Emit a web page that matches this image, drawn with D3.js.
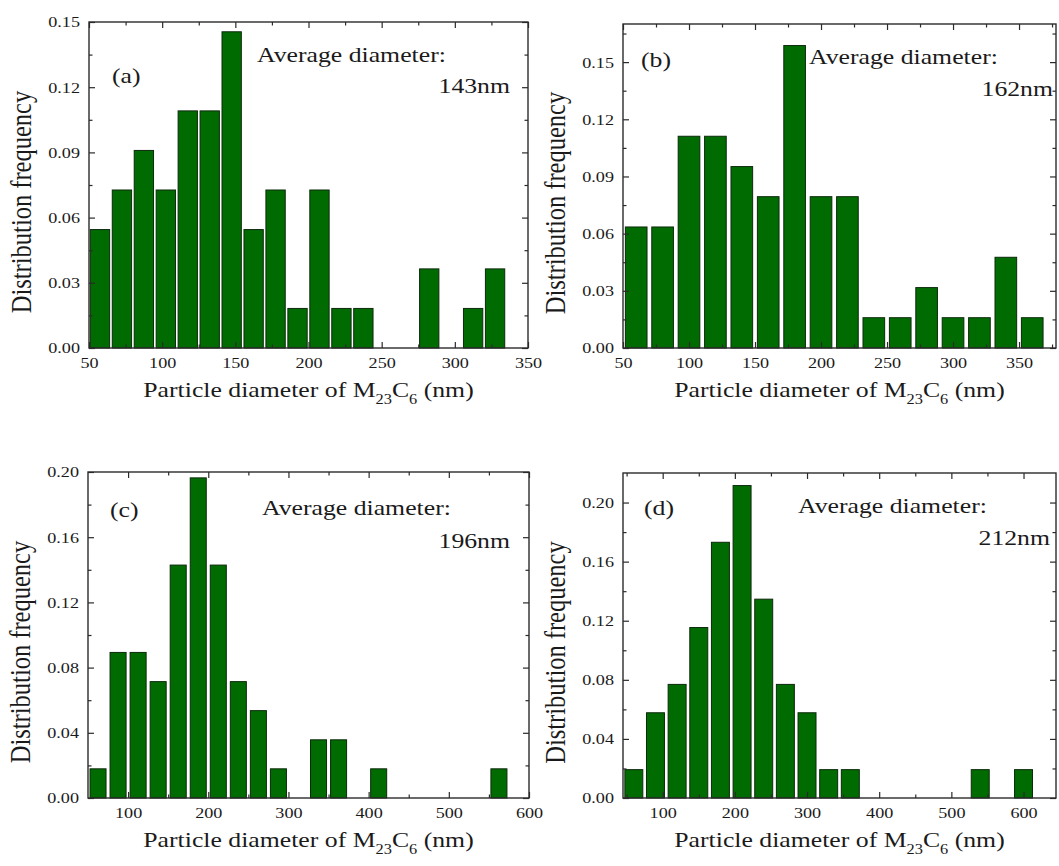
<!DOCTYPE html>
<html><head><meta charset="utf-8">
<script src="https://cdn.jsdelivr.net/npm/d3@7"></script>
<style>body{margin:0;background:#fff}svg{display:block}</style>
</head><body>
<svg id="fig" width="1059" height="866"></svg>
<script>
// ---------------- data ----------------
const centersA = [57.5,72.5,87.5,102.5,117.5,132.5,147.5,162.5,177.5,192.5,207.5,222.5,237.5,252.5,267.5,282.5,297.5,312.5,327.5];
const freqA    = [0.0545,0.0727,0.0909,0.0727,0.1091,0.1091,0.1455,0.0545,0.0727,0.0182,0.0727,0.0182,0.0182,0,0,0.0364,0,0.0182,0.0364];
const centersB = [60,80,100,120,140,160,180,200,220,240,260,280,300,320,340,360];
const freqB    = [0.0635,0.0635,0.1111,0.1111,0.0952,0.0794,0.1587,0.0794,0.0794,0.0159,0.0159,0.0317,0.0159,0.0159,0.0476,0.0159];
const centersC = [62.5,87.5,112.5,137.5,162.5,187.5,212.5,237.5,262.5,287.5,312.5,337.5,362.5,387.5,412.5,437.5,462.5,487.5,512.5,537.5,562.5];
const freqC    = [0.0179,0.0893,0.0893,0.0714,0.1429,0.1964,0.1429,0.0714,0.0536,0.0179,0,0.0357,0.0357,0,0.0179,0,0,0,0,0,0.0179];
const centersD = [60,90,120,150,180,210,240,270,300,330,360,390,420,450,480,510,540,570,600];
const freqD    = [0.0192,0.0577,0.0769,0.1154,0.1731,0.2115,0.1346,0.0769,0.0577,0.0192,0.0192,0,0,0,0,0,0.0192,0,0.0192];

const xTicksAB = [50,100,150,200,250,300,350];
const xTicksCD = [100,200,300,400,500,600];
const yTicksAB = [0,0.03,0.06,0.09,0.12,0.15];
const yTicksCD = [0,0.04,0.08,0.12,0.16,0.20];

const tags = ["(a)","(b)","(c)","(d)"];
const avgLabel = "Average diameter:";
const avgValues = ["143nm","162nm","196nm","212nm"];
const yTitle = "Distribution frequency";

// ---------------- layout ----------------
const panels = [
  {centers:centersA, values:freqA, binW:15, xDom:[50,350], yDom:[0,0.15], xT:xTicksAB, yT:yTicksAB,
   box:{l:89,r:528,t:22,b:348}, tag:[112,83], avg:[257,62], val:[510,93], fill:0.88},
  {centers:centersB, values:freqB, binW:20, xDom:[50,378], yDom:[0,0.17], xT:xTicksAB, yT:yTicksAB,
   box:{l:623,r:1056,t:24,b:348}, tag:[641,67], avg:[809,64], val:[1053,96], fill:0.82},
  {centers:centersC, values:freqC, binW:25, xDom:[50,600], yDom:[0,0.20], xT:xTicksCD, yT:yTicksCD,
   box:{l:88,r:529,t:472,b:798}, tag:[110,517], avg:[262,515], val:[510,548], fill:0.80},
  {centers:centersD, values:freqD, binW:30, xDom:[45,645], yDom:[0,0.22], xT:xTicksCD, yT:yTicksCD,
   box:{l:623,r:1056,t:473,b:798}, tag:[644,515], avg:[798,513], val:[1050,545], fill:0.83}
];

const SX = 1.17;              // horizontal stretch of the reference typography
const FONT = "'Liberation Serif','Times New Roman',serif";
const INK = "#2b2b2b";
const svg = d3.select("#fig");

function txt(g, x, y, s, size, anchor) {
  return g.append("text")
    .attr("transform", `translate(${x},${y}) scale(${SX},1)`)
    .attr("font-family", FONT).attr("font-size", size)
    .attr("fill", "#1a1a1a").attr("text-anchor", anchor || "start")
    .text(s);
}

function minorOf(ticks, dom) {
  const step = ticks[1] - ticks[0];
  const out = [];
  for (let v = ticks[0] - step / 2; v < dom[1] + 1e-9; v += step) {
    if (v > dom[0] + 1e-9 && v < dom[1] - 1e-9) out.push(v);
  }
  return out;
}

panels.forEach((p, i) => {
  const g = svg.append("g");
  const x = d3.scaleLinear().domain(p.xDom).range([p.box.l, p.box.r]);
  const y = d3.scaleLinear().domain(p.yDom).range([p.box.b, p.box.t]);
  const bw = (x(p.binW) - x(0)) * p.fill;

  // bars
  g.append("g").selectAll("rect")
    .data(p.centers.map((c, k) => ({c, v: p.values[k]})).filter(d => d.v > 0))
    .join("rect")
    .attr("x", d => x(d.c) - bw / 2)
    .attr("width", bw)
    .attr("y", d => y(d.v))
    .attr("height", d => y(0) - y(d.v))
    .attr("fill", "#006b00")
    .attr("stroke", "#0d2a0d")
    .attr("stroke-width", 1);

  // axes with inward ticks on all four sides
  const xMin = minorOf(p.xT, p.xDom);
  const yMin = minorOf(p.yT, p.yDom);
  const fmt = d3.format(".2f");

  const bottom = d3.axisBottom(x).tickValues(p.xT).tickSize(-6).tickPadding(9).tickFormat(d3.format("d"));
  const top = d3.axisTop(x).tickValues(p.xT).tickSize(-6).tickFormat("");
  const left = d3.axisLeft(y).tickValues(p.yT).tickSize(-6).tickPadding(10).tickFormat(fmt);
  const right = d3.axisRight(y).tickValues(p.yT).tickSize(-6).tickFormat("");

  const mk = (ax, tr) => {
    const a = g.append("g").attr("transform", tr).call(ax);
    a.select(".domain").remove();
    a.selectAll("line").attr("stroke", INK).attr("stroke-width", 1.2);
    return a;
  };
  const bx = mk(bottom, `translate(0,${p.box.b})`);
  mk(top, `translate(0,${p.box.t})`);
  const lx = mk(left, `translate(${p.box.l},0)`);
  mk(right, `translate(${p.box.r},0)`);
  // minor ticks
  mk(d3.axisBottom(x).tickValues(xMin).tickSize(-3.5).tickFormat(""), `translate(0,${p.box.b})`);
  mk(d3.axisTop(x).tickValues(xMin).tickSize(-3.5).tickFormat(""), `translate(0,${p.box.t})`);
  mk(d3.axisLeft(y).tickValues(yMin).tickSize(-3.5).tickFormat(""), `translate(${p.box.l},0)`);
  mk(d3.axisRight(y).tickValues(yMin).tickSize(-3.5).tickFormat(""), `translate(${p.box.r},0)`);

  // tick label styling (stretched serif)
  [bx, lx].forEach(a => a.selectAll("text")
    .attr("font-family", FONT).attr("font-size", 15.5).attr("fill", "#1a1a1a"));
  bx.selectAll(".tick text").each(function() {
    const t = d3.select(this);
    t.attr("transform", `scale(${SX},1)`).attr("x", 0);
  });
  lx.selectAll(".tick text").each(function() {
    const t = d3.select(this);
    t.attr("x", 0).attr("transform", `translate(-9,0) scale(${SX},1)`);
  });

  // frame
  g.append("rect")
    .attr("x", p.box.l).attr("y", p.box.t)
    .attr("width", p.box.r - p.box.l).attr("height", p.box.b - p.box.t)
    .attr("fill", "none").attr("stroke", INK).attr("stroke-width", 1.4);

  // annotations
  txt(g, p.tag[0], p.tag[1], tags[i], 22, "start");
  txt(g, p.avg[0], p.avg[1], avgLabel, 22, "start");
  txt(g, p.val[0], p.val[1], avgValues[i], 22, "end");

  // y title
  const cy = (p.box.t + p.box.b) / 2 + 17;
  g.append("text")
    .attr("transform", `translate(${p.box.l - 58},${cy}) scale(${SX},1) rotate(-90)`)
    .attr("font-family", FONT).attr("font-size", 24.5).attr("fill", "#1a1a1a")
    .attr("text-anchor", "middle").text(yTitle);

  // x title with subscripts
  const xt = g.append("text")
    .attr("transform", `translate(${(p.box.l + p.box.r) / 2},${p.box.b + 49}) scale(${SX},1)`)
    .attr("font-family", FONT).attr("font-size", 22).attr("fill", "#1a1a1a")
    .attr("text-anchor", "middle");
  xt.append("tspan").text("Particle diameter of M");
  xt.append("tspan").attr("font-size", 14).attr("dy", 7).text("23");
  xt.append("tspan").attr("dy", -7).text("C");
  xt.append("tspan").attr("font-size", 14).attr("dy", 7).text("6");
  xt.append("tspan").attr("dy", -7).text(" (nm)");
});
</script>
</body></html>
